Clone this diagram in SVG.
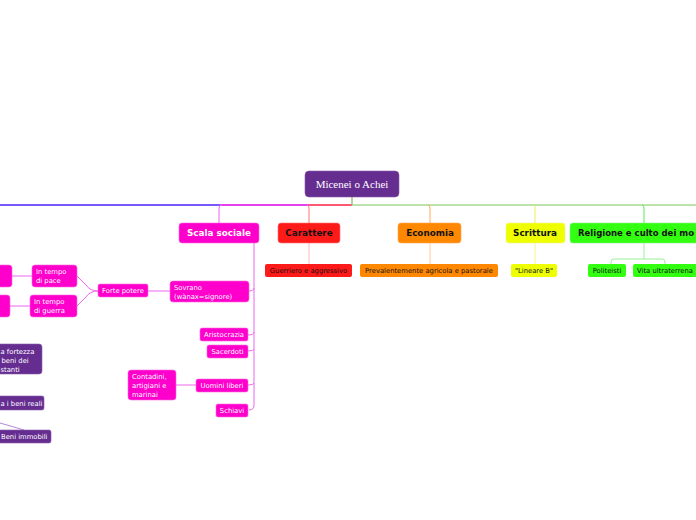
<svg xmlns="http://www.w3.org/2000/svg" width="696" height="520" viewBox="0 0 696 520">
<style>
text{font-family:"DejaVu Sans",Verdana,sans-serif}
.sm{font-size:6.8px;fill:#fff}
.smk{font-size:6.8px;fill:#111}
.hd{font-size:8.8px;font-weight:bold}
.mg{fill:#ff00cc;stroke:#ff66dd;stroke-width:0.6}
.pu{fill:#662d91;stroke:#8a5ab0;stroke-width:0.6}
.ln{fill:none;stroke-width:1}
</style>
<rect width="696" height="520" fill="#fff"/>
<g id="connectors" class="ln">
<path d="M0 205H220" stroke="#4d22ff" stroke-width="1.4"/>
<path d="M220 205H309" stroke="#dd00ee" stroke-width="1.4"/>
<path d="M309 205H352" stroke="#ff2244" stroke-width="1.4"/>
<path d="M352 205H696" stroke="#a8d890" stroke-width="1.4"/>
<path d="M352 197V205" stroke="#90c870" stroke-width="1.4"/>
<path d="M222 205Q219 205 219 208V223" stroke="#ee66ee"/>
<path d="M307 205Q309 205 309 208V223" stroke="#ff7777"/>
<path d="M428 205Q430 205 430 208V223" stroke="#ffaa55"/>
<path d="M535 205V223" stroke="#eeee55"/>
<path d="M642 205Q644 205 644 208V223" stroke="#55ee55"/>
<path d="M309 243V264" stroke="#ffbbbb"/>
<path d="M430 243V264" stroke="#ffcc99"/>
<path d="M535 243V264" stroke="#f4f488"/>
<path d="M644 243V259M611 264V262Q611 259 614 259H662Q665 259 665 262V264" stroke="#99ee99"/>
<g stroke="#ee66ee">
<path d="M254 243V405Q254 410 249 410"/>
<path d="M254 288Q254 291 249 291"/>
<path d="M254 332Q254 335 248 335"/>
<path d="M254 349Q254 351 248 351"/>
<path d="M254 383Q254 385 248 385"/>
<path d="M170 291H148"/>
<path d="M196 385H176"/>
<path d="M98 291Q90 291 86 285L77 276M98 291Q90 291 86 297L77 306"/>
<path d="M12 276H32M10 306H30"/>
</g>
<path d="M0 423Q14 427 24 430" stroke="#b088dd"/>
</g>
<g id="root"><rect x="305" y="171" width="94" height="26" rx="4" fill="#662d91" stroke="#8a5ab0" stroke-width="0.6"/><text x="352" y="188" text-anchor="middle" style="font-family:'Liberation Serif',serif;font-size:11px" fill="#fff">Micenei o Achei</text></g>
<g id="scala"><rect class="mg" x="179" y="223" width="80" height="20" rx="3"/><text class="hd" x="219" y="236" text-anchor="middle" fill="#fff">Scala sociale</text></g>
<g id="carattere"><rect x="278" y="223" width="62" height="20" rx="3" fill="#ff1a1a" stroke="#ff7777" stroke-width="0.6"/><text class="hd" x="309" y="236" text-anchor="middle" fill="#111">Carattere</text></g>
<g id="economia"><rect x="398" y="223" width="63" height="20" rx="3" fill="#ff8800" stroke="#ffaa55" stroke-width="0.6"/><text class="hd" x="430" y="236" text-anchor="middle" fill="#111">Economia</text></g>
<g id="scrittura"><rect x="506" y="223" width="59" height="20" rx="3" fill="#eeff00" stroke="#f4f488" stroke-width="0.6"/><text class="hd" x="535" y="236" text-anchor="middle" fill="#111">Scrittura</text></g>
<g id="religione"><rect x="570" y="223" width="140" height="20" rx="3" fill="#33ff11" stroke="#88ee88" stroke-width="0.6"/><text class="hd" x="578" y="236" fill="#111" textLength="116" lengthAdjust="spacingAndGlyphs">Religione e culto dei mo</text></g>
<g id="guerriero"><rect x="265" y="264" width="87" height="13" rx="2" fill="#ff1a1a"/><text class="smk" x="308.5" y="273" text-anchor="middle">Guerriero e aggressivo</text></g>
<g id="prevalentemente"><rect x="360" y="264" width="138" height="13" rx="2" fill="#ff8800"/><text class="smk" x="429" y="273" text-anchor="middle">Prevalentemente agricola e pastorale</text></g>
<g id="lineare"><rect x="511" y="264" width="46" height="13" rx="2" fill="#eeff00"/><text class="smk" x="534" y="273" text-anchor="middle">"Lineare B"</text></g>
<g id="politeisti"><rect x="588" y="264" width="38" height="13" rx="2" fill="#33ff11"/><text class="smk" x="607" y="273" text-anchor="middle">Politeisti</text></g>
<g id="vita"><rect x="633" y="264" width="80" height="13" rx="2" fill="#33ff11"/><text class="smk" x="637" y="273">Vita ultraterrena</text></g>
<g id="sovrano"><rect class="mg" x="170" y="281" width="79" height="21" rx="3"/><text class="sm" x="174" y="290">Sovrano</text><text class="sm" x="174" y="298.5">(wànax=signore)</text></g>
<g id="aristocrazia"><rect class="mg" x="200" y="328" width="48" height="13" rx="2"/><text class="sm" x="224" y="337" text-anchor="middle">Aristocrazia</text></g>
<g id="sacerdoti"><rect class="mg" x="207" y="345" width="41" height="13" rx="2"/><text class="sm" x="227.5" y="354" text-anchor="middle">Sacerdoti</text></g>
<g id="uomini"><rect class="mg" x="196" y="379" width="52" height="13" rx="2"/><text class="sm" x="222" y="388" text-anchor="middle">Uomini liberi</text></g>
<g id="schiavi"><rect class="mg" x="216" y="404" width="32" height="13" rx="2"/><text class="sm" x="232" y="413" text-anchor="middle">Schiavi</text></g>
<g id="contadini"><rect class="mg" x="128" y="370" width="48" height="30" rx="3"/><text class="sm" x="132" y="379">Contadini,</text><text class="sm" x="132" y="388">artigiani e</text><text class="sm" x="132" y="397">marinai</text></g>
<g id="forte"><rect class="mg" x="98" y="284" width="50" height="13" rx="2"/><text class="sm" x="123" y="293" text-anchor="middle">Forte potere</text></g>
<g id="pace"><rect class="mg" x="32" y="265" width="45" height="22" rx="3"/><text class="sm" x="36" y="274">In tempo</text><text class="sm" x="36" y="283">di pace</text></g>
<g id="guerra"><rect class="mg" x="30" y="295" width="47" height="22" rx="3"/><text class="sm" x="34" y="304">In tempo</text><text class="sm" x="34" y="313">di guerra</text></g>
<g id="left1"><rect class="mg" x="-10" y="265" width="22" height="22" rx="3"/></g>
<g id="left2"><rect class="mg" x="-10" y="295" width="20" height="22" rx="3"/></g>
<g id="fortezza"><rect class="pu" x="-10" y="344" width="52" height="30" rx="3"/><text class="sm" x="0.5" y="354">a fortezza</text><text class="sm" x="1.5" y="363">beni dei</text><text class="sm" x="0.5" y="372">stanti</text></g>
<g id="benireali"><rect class="pu" x="-10" y="396" width="54" height="14" rx="2"/><text class="sm" x="0.5" y="405.5">a i beni reali</text></g>
<g id="immobili"><rect class="pu" x="-10" y="430" width="61" height="13" rx="2"/><text class="sm" x="1" y="439">Beni immobili</text></g>
</svg>
